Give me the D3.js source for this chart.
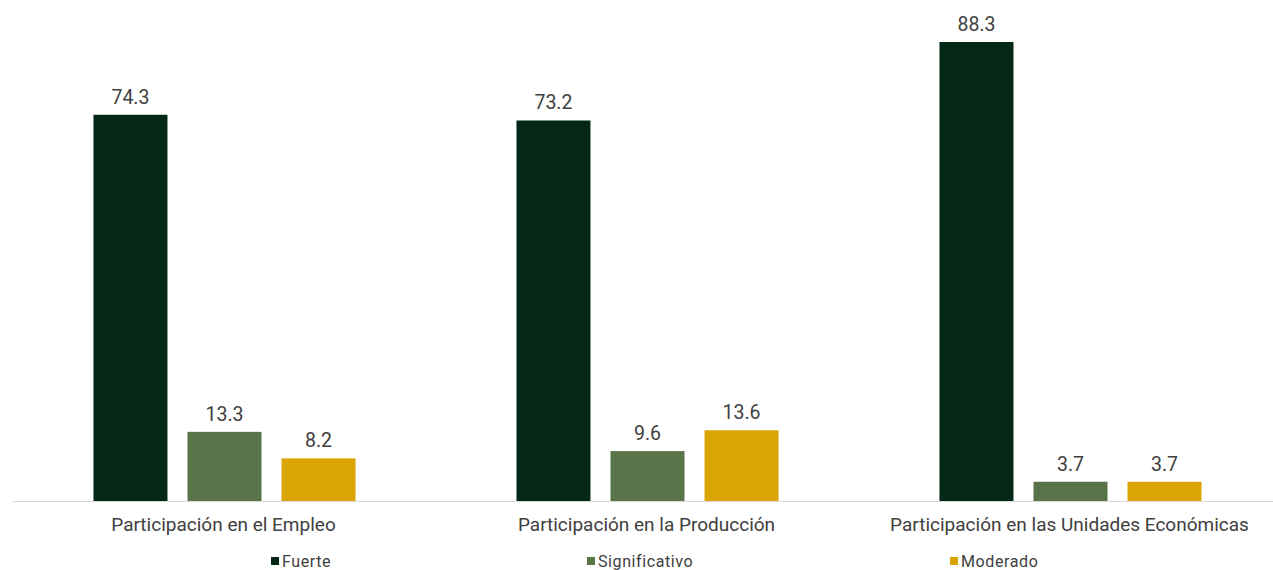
<!DOCTYPE html>
<html>
<head>
<meta charset="utf-8">
<script src="https://cdn.jsdelivr.net/npm/d3@7"></script>
<style>
  body { margin: 0; background: #fff; }
  text { font-family: Roboto, "Noto Sans", sans-serif; fill: #404040; }
</style>
</head>
<body>
<script>
// Data
var categories = ["Participación en el Empleo", "Participación en la Producción", "Participación en las Unidades Económicas"];
var series = ["Fuerte", "Significativo", "Moderado"];
var fuerte = [74.3, 73.2, 88.3];
var significativo = [13.3, 9.6, 3.7];
var moderado = [8.2, 13.6, 3.7];
var colors = ["#032816", "#5a7449", "#d9a404"];

var values = [fuerte, significativo, moderado];

var width = 1273, height = 570;

var svg = d3.select("body").append("svg")
    .attr("width", width)
    .attr("height", height);

// Scales
var x0 = d3.scaleBand()
    .domain(categories)
    .range([13, 1282]);

var x1 = d3.scaleBand()
    .domain(series)
    .range([0, x0.bandwidth()])
    .paddingInner(0.213)
    .paddingOuter(0.856);

var y = d3.scaleLinear()
    .domain([0, 88.3])
    .range([501, 42]);

var color = d3.scaleOrdinal().domain(series).range(colors);

// Axis line
svg.append("line")
    .attr("x1", 13).attr("x2", width)
    .attr("y1", y(0) + 0.5).attr("y2", y(0) + 0.5)
    .attr("stroke", "#d9d9d9")
    .attr("stroke-width", 1);

// Bars
var groups = svg.selectAll("g.group")
    .data(categories)
    .enter().append("g")
    .attr("class", "group")
    .attr("transform", function (d) { return "translate(" + x0(d) + ",0)"; });

groups.selectAll("rect")
    .data(function (d, i) {
        return series.map(function (s, j) { return { key: s, value: values[j][i] }; });
    })
    .enter().append("rect")
    .attr("x", function (d) { return x1(d.key); })
    .attr("y", function (d) { return y(d.value); })
    .attr("width", x1.bandwidth())
    .attr("height", function (d) { return y(0) - y(d.value); })
    .attr("fill", function (d) { return color(d.key); });

// Value labels
groups.selectAll("text.val")
    .data(function (d, i) {
        return series.map(function (s, j) { return { key: s, value: values[j][i] }; });
    })
    .enter().append("text")
    .attr("class", "val")
    .attr("x", function (d) { return x1(d.key) + x1.bandwidth() / 2; })
    .attr("y", function (d) { return y(d.value) - 11; })
    .attr("text-anchor", "middle")
    .attr("font-size", "19.5px")
    .text(function (d) { return d3.format(".1f")(d.value); });

// Category labels
svg.selectAll("text.cat")
    .data(categories)
    .enter().append("text")
    .attr("class", "cat")
    .attr("x", function (d) { return x0(d) + x0.bandwidth() / 2 - 1; })
    .attr("y", 531)
    .attr("text-anchor", "middle")
    .attr("font-size", "19px")
    .text(function (d) { return d; });

// Legend
var legendX = [271, 587, 950];
var legend = svg.append("g").attr("class", "legend");
var items = legend.selectAll("g")
    .data(series)
    .enter().append("g")
    .attr("transform", function (d, i) { return "translate(" + legendX[i] + ",557)"; });

items.append("rect")
    .attr("width", 8).attr("height", 8)
    .attr("fill", function (d) { return color(d); });

items.append("text")
    .attr("x", 11)
    .attr("y", 10)
    .attr("font-size", "16px")
    .attr("letter-spacing", "0.6")
    .text(function (d) { return d; });
</script>
</body>
</html>
